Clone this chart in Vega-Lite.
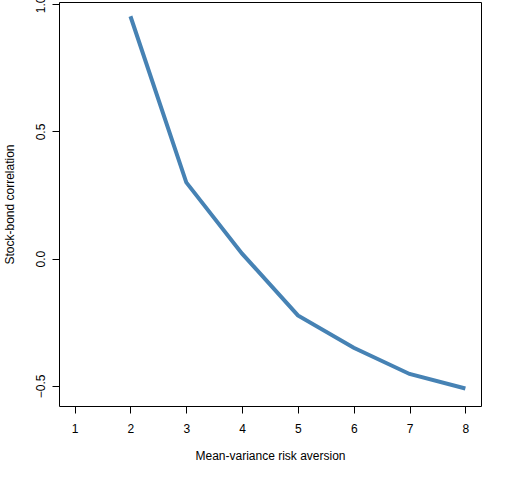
{
  "$schema": "https://vega.github.io/schema/vega-lite/v6.json",
  "autosize": "none",
  "width": 422,
  "height": 404,
  "padding": {"left": 59, "top": 2, "right": 31, "bottom": 74},
  "background": "white",
  "config": {
    "view": {"stroke": "black", "strokeWidth": 1},
    "font": "Liberation Sans",
    "axis": {
      "domain": false,
      "grid": false,
      "tickColor": "black",
      "tickSize": 7,
      "labelFont": "Liberation Sans",
      "labelFontSize": 12,
      "labelColor": "black",
      "titleFont": "Liberation Sans",
      "titleFontSize": 12,
      "titleFontWeight": "normal",
      "titleColor": "black"
    }
  },
  "data": {
    "values": [
      {"risk_aversion": 2, "correlation": 0.953},
      {"risk_aversion": 3, "correlation": 0.30},
      {"risk_aversion": 4, "correlation": 0.02},
      {"risk_aversion": 5, "correlation": -0.223},
      {"risk_aversion": 6, "correlation": -0.35},
      {"risk_aversion": 7, "correlation": -0.453},
      {"risk_aversion": 8, "correlation": -0.51}
    ]
  },
  "mark": {"type": "line", "color": "#4682B4", "strokeWidth": 4, "clip": true},
  "encoding": {
    "x": {
      "field": "risk_aversion",
      "type": "quantitative",
      "scale": {"domain": [0.72, 8.28], "nice": false, "zero": false},
      "axis": {
        "title": "Mean-variance risk aversion",
        "values": [1, 2, 3, 4, 5, 6, 7, 8],
        "format": "d",
        "labelPadding": 10,
        "titlePadding": 16
      }
    },
    "y": {
      "field": "correlation",
      "type": "quantitative",
      "scale": {"domain": [-0.579, 1.009], "nice": false, "zero": false},
      "axis": {
        "title": "Stock-bond correlation",
        "values": [-0.5, 0, 0.5, 1],
        "format": ".1f",
        "labelAngle": -90,
        "labelAlign": "center",
        "labelBaseline": "bottom",
        "labelPadding": 5,
        "titlePadding": 18
      }
    }
  }
}
